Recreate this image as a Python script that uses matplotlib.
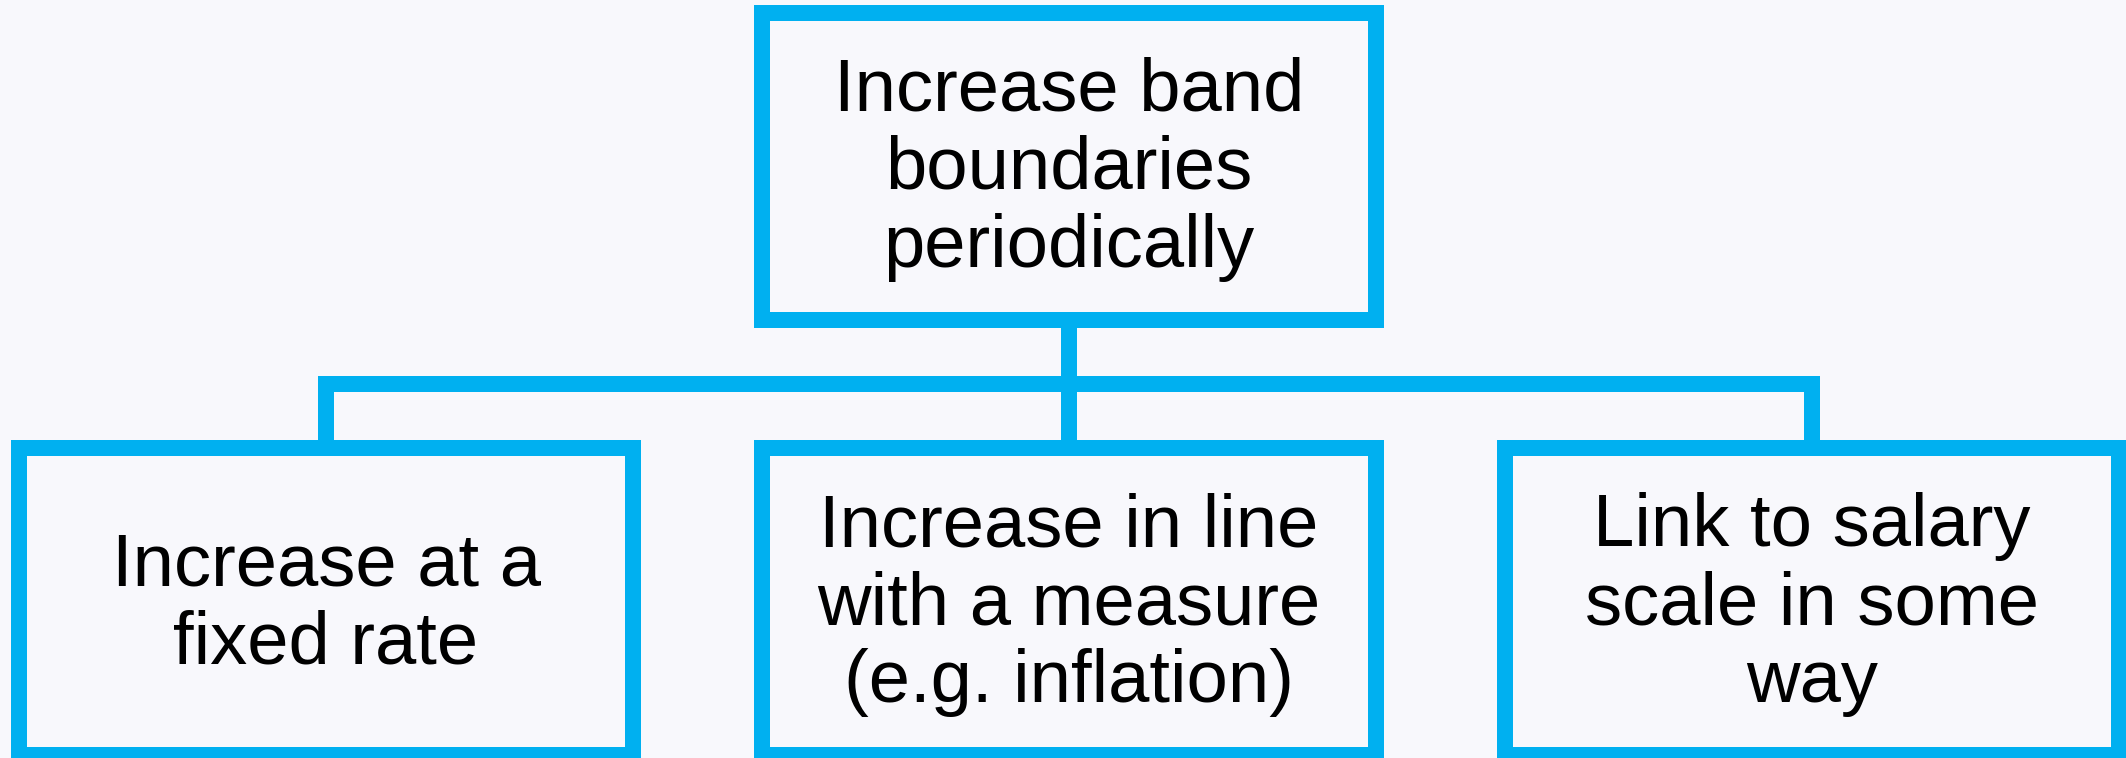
import matplotlib.pyplot as plt
from matplotlib.patches import Rectangle

# labels of the tree
root_label = 'Increase band\nboundaries\nperiodically'
child_labels = [
    'Increase at a\nfixed rate',
    'Increase in line\nwith a measure\n(e.g. inflation)',
    'Link to salary\nscale in some\nway',
]

BLUE = '#00B0F0'
BG = '#F8F8FC'

# layout, in pixels of the 2126x758 picture
W, H = 2126, 758
DPI = 100
box_w, box_h = 614, 307
stroke_px = 16
child_left = 19
child_gap = 129
root_top = 12.5
bar_y = 384
child_top = 448.3
font_pt = 53.5

lw = stroke_px * 72 / DPI

fig = plt.figure(figsize=(W / DPI, H / DPI), dpi=DPI, facecolor=BG)
ax = fig.add_axes([0, 0, 1, 1])
ax.set_xlim(0, W)
ax.set_ylim(H, 0)
ax.axis('off')
ax.set_facecolor(BG)


def draw_box(ax, x, y, label):
    ax.add_patch(Rectangle((x, y), box_w, box_h, facecolor=BG, edgecolor=BLUE,
                           linewidth=lw, joinstyle='miter', zorder=3))
    ax.text(x + box_w / 2, y + box_h / 2 + 3, label, ha='center', va='center',
            multialignment='center', fontsize=font_pt, linespacing=1.17,
            family=['Liberation Sans', 'DejaVu Sans'], color='black', zorder=4)


child_x = [child_left + i * (box_w + child_gap) for i in range(len(child_labels))]
centers = [x + box_w / 2 for x in child_x]
root_x = child_x[len(child_x) // 2]
root_cx = root_x + box_w / 2

# connectors
ax.plot([root_cx, root_cx], [root_top + box_h, bar_y], color=BLUE, lw=lw,
        solid_capstyle='butt', zorder=2)
ax.plot([centers[0], centers[-1]], [bar_y, bar_y], color=BLUE, lw=lw,
        solid_capstyle='projecting', zorder=2)
for cx in centers:
    ax.plot([cx, cx], [bar_y, child_top], color=BLUE, lw=lw,
            solid_capstyle='butt', zorder=2)

draw_box(ax, root_x, root_top, root_label)
for x, label in zip(child_x, child_labels):
    draw_box(ax, x, child_top, label)

fig.savefig('out.png', dpi=DPI, facecolor=BG)
